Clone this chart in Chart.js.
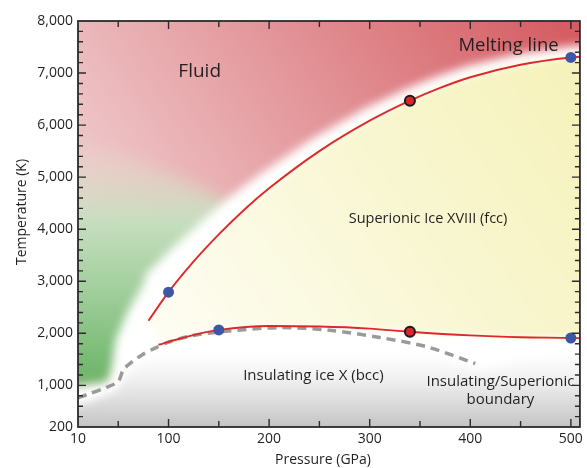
<!DOCTYPE html>
<html>
<head>
<meta charset="utf-8">
<title>Water phase diagram</title>
<script src="https://cdn.jsdelivr.net/npm/chart.js@4.4.0/dist/chart.umd.min.js"></script>
<style>
  html, body { margin: 0; padding: 0; background: #ffffff; }
  #wrap { width: 587px; height: 468px; position: relative; }
</style>
</head>
<body>
<div id="wrap"><canvas id="phaseChart" width="587" height="468"></canvas></div>
<script>
// ==========================================
// 1. DATA
// ==========================================
const xTickValues = [10, 100, 200, 300, 400, 500];
const yTickValues = [200, 1000, 2000, 3000, 4000, 5000, 6000, 7000, 8000];

// melting line (red, solid)
const meltPressure = [80, 100, 125, 150, 175, 200, 250, 300, 340, 370, 400, 450, 500, 509];
const meltTemp     = [2240, 2790, 3380, 3900, 4370, 4785, 5500, 6085, 6470, 6715, 6920, 7160, 7300, 7312];

// superionic -> insulating transition (red, solid)
const sibPressure = [90, 110, 130, 150, 200, 250, 300, 340, 400, 450, 500, 509];
const sibTemp     = [1780, 1890, 1990, 2065, 2140, 2130, 2090, 2030, 1960, 1925, 1910, 1905];

// insulating/superionic boundary (grey, dashed)
const insPressure = [10, 20, 38, 50, 55, 63, 74, 85, 100, 122, 152, 211, 260, 310, 357, 405];
const insTemp     = [760, 830, 960, 1075, 1300, 1440, 1590, 1700, 1830, 1950, 2030, 2110, 2060, 1920, 1740, 1420];

// marked points
const bluePressure = [100, 150, 500, 500];
const blueTemp     = [2790, 2065, 7300, 1910];
const redPressure  = [340, 340];
const redTemp      = [6470, 2030];

// shaded phase regions (edges of the green patch and of the white halo)
const greenPressure = [-20, 40, 60, 100, 170, 170, 110, 40, -20];
const greenTemp     = [900, 950, 1500, 2600, 3600, 4400, 5000, 5600, 6000];
const haloPressure  = [10, 40, 43, 47, 60, 76];
const haloTemp      = [960, 1050, 1240, 1870, 2450, 2970];

// region labels
const regionLabels   = ["Fluid", "Melting line", "Superionic Ice XVIII (fcc)", "Insulating ice X (bcc)", "Insulating/Superionic", "boundary"];
const regionPressure = [131, 438, 358, 244, 430, 430];
const regionTemp     = [7020, 7520, 4200, 1180, 1065, 720];
const regionFont     = [19, 18.5, 14.5, 15, 15, 15];

const FONT = "'Open Sans', 'Noto Sans', sans-serif";
const TEXT = "#231f20";

const toPoints = (xs, ys) => xs.map((v, i) => ({ x: v, y: ys[i] }));

// ==========================================
// 2. BACKGROUND: PHASE REGIONS
// ==========================================
const phaseBackground = {
  id: 'phaseBackground',
  beforeDatasetsDraw(chart) {
    const { ctx, chartArea: a, scales: { x, y } } = chart;
    const X = v => x.getPixelForValue(v);
    const Y = v => y.getPixelForValue(v);

    ctx.save();
    ctx.beginPath();
    ctx.rect(a.left, a.top, a.right - a.left, a.bottom - a.top);
    ctx.clip();

    // fluid - red, lighter towards lower left
    let g = ctx.createLinearGradient(a.right, a.top, a.left + 40, a.top + 300);
    g.addColorStop(0, '#d45a60');
    g.addColorStop(1, '#f2d4d6');
    ctx.fillStyle = g;
    ctx.fillRect(a.left, a.top, a.right - a.left, a.bottom - a.top);

    // green patch on the low pressure side
    ctx.filter = 'blur(8px)';
    g = ctx.createLinearGradient(0, Y(900), 0, Y(6000));
    g.addColorStop(0, 'rgb(104,178,100)');
    g.addColorStop(0.1, 'rgb(118,185,113)');
    g.addColorStop(0.4, 'rgb(165,208,160)');
    g.addColorStop(0.65, 'rgb(200,222,192)');
    g.addColorStop(0.85, 'rgba(225,215,200,0.5)');
    g.addColorStop(1, 'rgba(235,200,200,0)');
    ctx.fillStyle = g;
    ctx.beginPath();
    greenPressure.forEach((p, i) => ctx.lineTo(X(p), Y(greenTemp[i])));
    ctx.closePath();
    ctx.fill();

    // white halo around the solid phases, offset up-left of the melting line
    const meltPx = meltPressure.map((p, i) => ({ x: X(p), y: Y(meltTemp[i]), p: p }));
    const halo = [];
    meltPx.forEach((pt, i) => {
      if (pt.p < 100) return;
      const prev = meltPx[Math.max(i - 1, 0)], next = meltPx[Math.min(i + 1, meltPx.length - 1)];
      let tx = next.x - prev.x, ty = next.y - prev.y;
      const len = Math.hypot(tx, ty);
      tx /= len; ty /= len;
      const w = 11 + 18 * Math.exp(-(pt.p - 100) / 90);
      halo.push({ x: pt.x + ty * w, y: pt.y - tx * w });
    });
    ctx.filter = 'blur(5px)';
    ctx.fillStyle = '#ffffff';
    ctx.beginPath();
    ctx.moveTo(a.left - 30, Y(haloTemp[0]));
    haloPressure.forEach((p, i) => ctx.lineTo(X(p), Y(haloTemp[i])));
    halo.forEach(pt => ctx.lineTo(pt.x, pt.y));
    ctx.lineTo(a.right + 30, halo[halo.length - 1].y);
    ctx.lineTo(a.right + 30, a.bottom + 30);
    ctx.lineTo(a.left - 30, a.bottom + 30);
    ctx.closePath();
    ctx.fill();

    // superionic - pale yellow
    ctx.filter = 'blur(3px)';
    g = ctx.createLinearGradient(X(500), Y(7300), X(100), Y(1800));
    g.addColorStop(0, '#f6f2bb');
    g.addColorStop(0.5, '#f9f7d4');
    g.addColorStop(1, '#fefdf3');
    ctx.fillStyle = g;
    ctx.beginPath();
    meltPx.forEach(pt => ctx.lineTo(pt.x, pt.y));
    ctx.lineTo(a.right + 30, meltPx[meltPx.length - 1].y);
    ctx.lineTo(a.right + 30, Y(sibTemp[sibTemp.length - 1]));
    for (let i = sibPressure.length - 1; i >= 0; i--) ctx.lineTo(X(sibPressure[i]), Y(sibTemp[i]));
    ctx.closePath();
    ctx.fill();

    // insulating - white fading to grey
    ctx.filter = 'blur(4px)';
    g = ctx.createLinearGradient(0, Y(1600), 0, Y(200));
    g.addColorStop(0, '#ffffff');
    g.addColorStop(0.35, '#f0f0f0');
    g.addColorStop(0.7, '#d9d9d9');
    g.addColorStop(1, '#c4c4c4');
    ctx.fillStyle = g;
    ctx.beginPath();
    ctx.moveTo(a.left - 30, Y(insTemp[0]) + 8);
    insPressure.forEach((p, i) => ctx.lineTo(X(p), Y(insTemp[i]) + 8));
    ctx.lineTo(a.right + 30, Y(1800));
    ctx.lineTo(a.right + 30, a.bottom + 30);
    ctx.lineTo(a.left - 30, a.bottom + 30);
    ctx.closePath();
    ctx.fill();

    ctx.restore();
  }
};

// ==========================================
// 3. LABELS, FRAME AND INWARD TICKS
// ==========================================
const phaseLabels = {
  id: 'phaseLabels',
  afterDatasetsDraw(chart) {
    const { ctx, scales: { x, y } } = chart;
    ctx.save();
    ctx.fillStyle = TEXT;
    ctx.textAlign = 'center';
    ctx.textBaseline = 'middle';
    regionLabels.forEach((t, i) => {
      ctx.font = regionFont[i] + 'px ' + FONT;
      ctx.fillText(t, x.getPixelForValue(regionPressure[i]), y.getPixelForValue(regionTemp[i]));
    });
    ctx.restore();
  }
};

const frameTicks = {
  id: 'frameTicks',
  afterDraw(chart) {
    const { ctx, chartArea: a, scales: { x, y } } = chart;
    ctx.save();
    ctx.strokeStyle = '#2b2b2b';
    ctx.lineWidth = 1.8;
    ctx.strokeRect(a.left, a.top, a.right - a.left, a.bottom - a.top);

    ctx.lineWidth = 1.4;
    ctx.beginPath();
    for (let p = 50; p <= 500; p += 50) {
      const px = x.getPixelForValue(p);
      const len = p % 100 === 0 ? 8 : 6;
      ctx.moveTo(px, a.bottom); ctx.lineTo(px, a.bottom - len);
      ctx.moveTo(px, a.top); ctx.lineTo(px, a.top + len);
    }
    for (let t = 400; t < 8000; t += 200) {
      const py = y.getPixelForValue(t);
      const len = t % 1000 === 0 ? 8 : 5;
      ctx.moveTo(a.left, py); ctx.lineTo(a.left + len, py);
      ctx.moveTo(a.right, py); ctx.lineTo(a.right - len, py);
    }
    ctx.stroke();

    // axis titles
    ctx.fillStyle = TEXT;
    ctx.font = '14px ' + FONT;
    ctx.textAlign = 'center';
    ctx.textBaseline = 'middle';
    ctx.fillText('Pressure (GPa)', 323, 460);
    ctx.translate(22, 212);
    ctx.rotate(-Math.PI / 2);
    ctx.fillText('Temperature (K)', 0, 0);
    ctx.restore();
  }
};

// ==========================================
// 4. CHART
// ==========================================
new Chart(document.getElementById('phaseChart'), {
  type: 'scatter',
  data: {
    datasets: [
      {
        label: 'Simulation points',
        data: toPoints(redPressure, redTemp),
        pointRadius: 5,
        pointBackgroundColor: '#d8262c',
        pointBorderColor: '#1a1a1a',
        pointBorderWidth: 2,
        clip: false
      },
      {
        label: 'Experimental points',
        data: toPoints(bluePressure, blueTemp),
        pointRadius: 5.5,
        pointBackgroundColor: '#3d56a6',
        pointBorderWidth: 0,
        clip: false
      },
      {
        label: 'Melting line',
        data: toPoints(meltPressure, meltTemp),
        showLine: true,
        borderColor: '#dc2a2a',
        borderWidth: 1.9,
        pointRadius: 0,
        cubicInterpolationMode: 'monotone'
      },
      {
        label: 'Superionic transition',
        data: toPoints(sibPressure, sibTemp),
        showLine: true,
        borderColor: '#dc2a2a',
        borderWidth: 1.9,
        pointRadius: 0,
        cubicInterpolationMode: 'monotone'
      },
      {
        label: 'Insulating/Superionic boundary',
        data: toPoints(insPressure, insTemp),
        showLine: true,
        borderColor: '#9a9a9a',
        borderWidth: 3.5,
        borderDash: [9, 6],
        pointRadius: 0,
        tension: 0.3
      }
    ]
  },
  options: {
    responsive: false,
    animation: false,
    devicePixelRatio: 1,
    layout: { padding: { top: 21, right: 5, left: 0, bottom: 0 } },
    plugins: { legend: { display: false }, tooltip: { enabled: false } },
    scales: {
      x: {
        type: 'linear',
        min: 10,
        max: 509,
        afterBuildTicks: s => { s.ticks = xTickValues.map(v => ({ value: v })); },
        afterFit: s => { s.height = 41; },
        grid: { display: false, drawTicks: false },
        border: { display: false },
        ticks: { autoSkip: false, maxRotation: 0, padding: 4, color: TEXT, font: { family: FONT, size: 14 } }
      },
      y: {
        type: 'linear',
        min: 200,
        max: 8000,
        afterBuildTicks: s => { s.ticks = yTickValues.map(v => ({ value: v })); },
        afterFit: s => { s.width = 78; },
        grid: { display: false, drawTicks: false },
        border: { display: false },
        ticks: {
          autoSkip: false, padding: 5, color: TEXT, font: { family: FONT, size: 14 },
          callback: v => v.toLocaleString('en-US')
        }
      }
    }
  },
  plugins: [phaseBackground, phaseLabels, frameTicks]
});
</script>
</body>
</html>
